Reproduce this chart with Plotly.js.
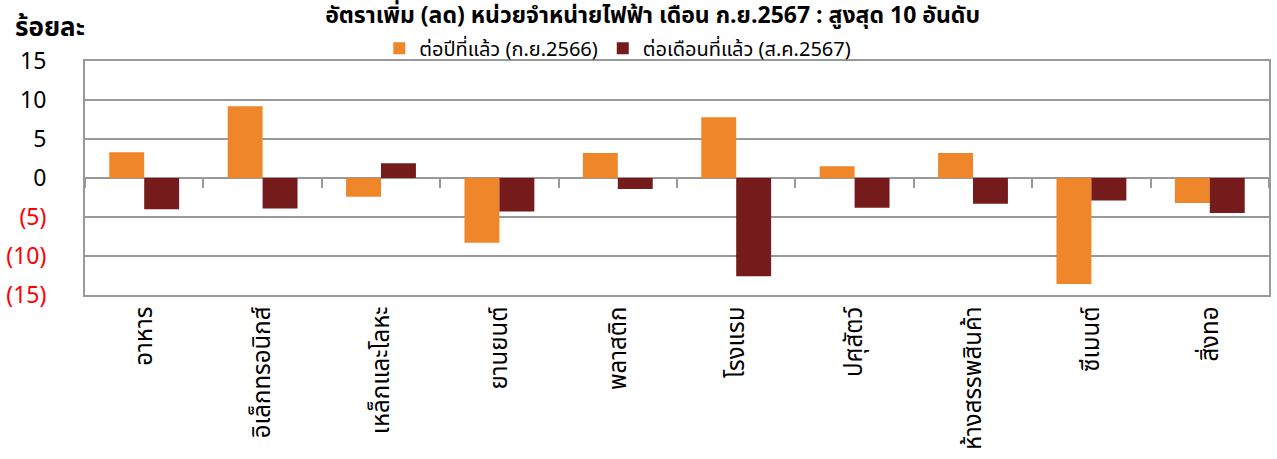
<!DOCTYPE html>
<html><head><meta charset="utf-8">
<script src="https://cdn.plot.ly/plotly-3.0.1.min.js"></script>
<style>html,body{margin:0;padding:0;background:#fff}#chart{width:1277px;height:459px}</style>
</head><body><div id="chart"></div>
<script>
var categories = ["อาหาร","อิเล็กทรอนิกส์","เหล็กและโลหะ","ยานยนต์","พลาสติก","โรงแรม","ปศุสัตว์","ห้างสรรพสินค้า","ซีเมนต์","สิ่งทอ"];
var yoySep2566 = [3.3, 9.2, -2.4, -8.3, 3.2, 7.8, 1.5, 3.2, -13.6, -3.2];
var momAug2567 = [-4.0, -3.9, 1.9, -4.3, -1.4, -12.6, -3.8, -3.3, -2.9, -4.5];
var seriesNames = ["ต่อปีที่แล้ว (ก.ย.2566)", "ต่อเดือนที่แล้ว (ส.ค.2567)"];
var yTickVals = [15, 10, 5, 0, -5, -10, -15];
var yTickText = ["15", "10", "5", "0", "<span style='color:#FF0000'>(5)</span>", "<span style='color:#FF0000'>(10)</span>", "<span style='color:#FF0000'>(15)</span>"];

var FONT = "Tahoma, 'Noto Sans Thai', 'Noto Sans', sans-serif";

var traces = [
  {type:'bar', name:seriesNames[0], x:categories, y:yoySep2566, marker:{color:'#F0862A'}},
  {type:'bar', name:seriesNames[1], x:categories, y:momAug2567, marker:{color:'#761B1B'}},
  {type:'bar', x:categories, y:categories.map(function(){return null;}), xaxis:'x2', showlegend:false, hoverinfo:'skip'}
];

var layout = {
  width:1277, height:459,
  margin:{l:85, r:8, t:61, b:164},
  paper_bgcolor:'#fff', plot_bgcolor:'#fff',
  font:{family:FONT, color:'#000'},
  barmode:'group', bargap:0.41, bargroupgap:0,
  title:{text:'<b>อัตราเพิ่ม (ลด) หน่วยจำหน่ายไฟฟ้า เดือน ก.ย.2567 : สูงสุด 10 อันดับ</b>', x:0.511, xanchor:'center', y:0.968, yanchor:'middle', font:{size:23, family:FONT, color:'#000'}},
  showlegend:true,
  legend:{orientation:'h', x:0.45, xanchor:'center', y:1.055, yanchor:'middle', font:{size:20, family:FONT}, bgcolor:'rgba(0,0,0,0)', itemwidth:30, traceorder:'normal'},
  xaxis:{type:'category', tickangle:-90, tickfont:{size:24, family:FONT}, showgrid:false, showline:true, linecolor:'#999', linewidth:2, mirror:true, ticks:'', zeroline:false},
  xaxis2:{type:'category', matches:'x', overlaying:'x', anchor:'free', position:0.5, showticklabels:false, ticks:'outside', tickson:'boundaries', ticklen:9, tickwidth:2, tickcolor:'#999', showline:false, showgrid:false},
  yaxis:{range:[-15,15], tickvals:yTickVals, ticktext:yTickText, tickfont:{size:23, family:FONT}, ticklabelstandoff:32, showgrid:true, gridcolor:'#999', gridwidth:2, zeroline:true, zerolinecolor:'#999', zerolinewidth:2, showline:true, linecolor:'#999', linewidth:2, mirror:true, ticks:''},
  annotations:[{text:'<b>ร้อยละ</b>', xref:'paper', yref:'paper', x:-0.061, xanchor:'left', y:1.14, yanchor:'middle', showarrow:false, font:{size:26, family:FONT, color:'#000'}}]
};

Plotly.newPlot('chart', traces, layout, {displayModeBar:false, staticPlot:true});
</script></body></html>
